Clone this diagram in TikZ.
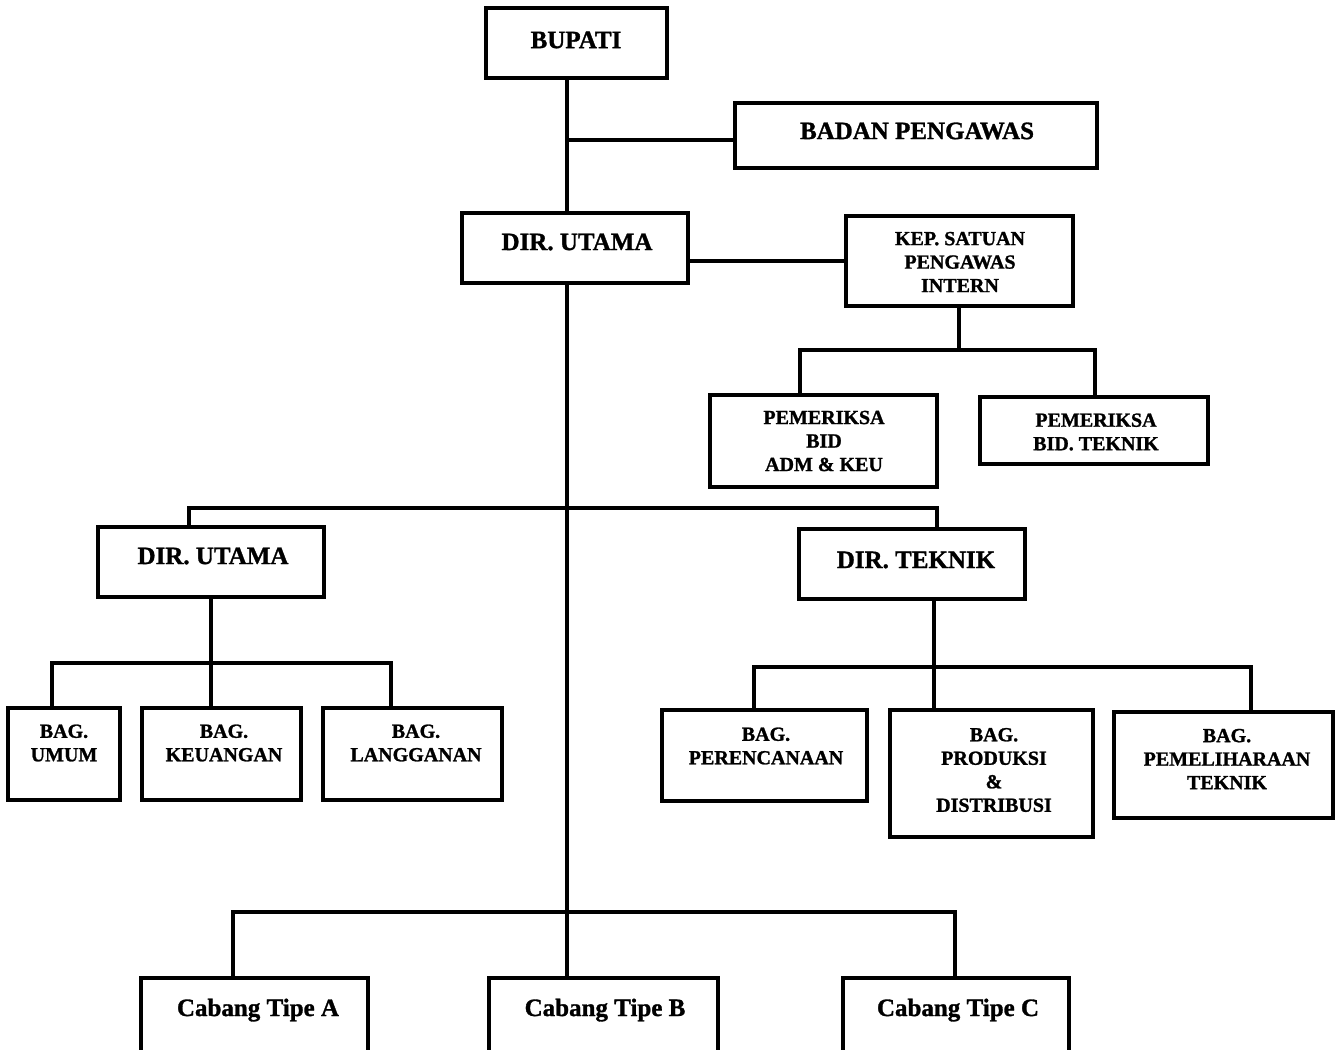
\documentclass[tikz,border=0pt]{standalone}
\usepackage{fontspec}
\setmainfont{Liberation Serif}[BoldFeatures={FakeBold=1.2}]
\usetikzlibrary{fit}
\begin{document}
\begin{tikzpicture}[x=0.5pt,y=-0.5pt,
  box/.style={draw, line width=1.6pt, inner sep=0pt, rectangle},
  wire/.style={line width=1.6pt},
  bigtxt/.style={font=\fontsize{12.5}{15}\selectfont\bfseries, inner sep=0pt},
  smalltxt/.style={font=\fontsize{10}{11.75}\selectfont\bfseries, align=center, inner sep=0pt}]
\useasboundingbox (0,0) rectangle (1343,1049);

% boxes
\node[box, fit={(486,8) (667,78)}] (bupati) {};
\node[box, fit={(735,103) (1097,168)}] (badan) {};
\node[box, fit={(462,213) (688,283)}] (dirut) {};
\node[box, fit={(846,216) (1073,306)}] (kep) {};
\node[box, fit={(710,395) (937,487)}] (pemA) {};
\node[box, fit={(980,397) (1208,464)}] (pemT) {};
\node[box, fit={(98,527) (324,597)}] (dirL) {};
\node[box, fit={(799,529) (1025,599)}] (dirT) {};
\node[box, fit={(8,708) (120,800)}] (umum) {};
\node[box, fit={(142,708) (301,800)}] (keu) {};
\node[box, fit={(323,708) (502,800)}] (lang) {};
\node[box, fit={(662,710) (867,801)}] (peren) {};
\node[box, fit={(890,710) (1093,837)}] (prod) {};
\node[box, fit={(1114,712) (1333,818)}] (pemel) {};
\node[box, fit={(141,978) (368,1062)}] (cabA) {};
\node[box, fit={(489,978) (718,1062)}] (cabB) {};
\node[box, fit={(843,978) (1069,1062)}] (cabC) {};

% labels
\node[bigtxt] (bupati-t) at (576,40) {BUPATI};
\node[bigtxt] (badan-t) at (917,131) {BADAN PENGAWAS};
\node[bigtxt] (dirut-t) at (577,242) {DIR. UTAMA};
\node[smalltxt] (kep-t) at (960,262) {KEP. SATUAN\\PENGAWAS\\INTERN};
\node[smalltxt] (pemA-t) at (824,441) {PEMERIKSA\\BID\\ADM \& KEU};
\node[smalltxt] (pemT-t) at (1096,432) {PEMERIKSA\\BID. TEKNIK};
\node[bigtxt] (dirL-t) at (213,556) {DIR. UTAMA};
\node[bigtxt] (dirT-t) at (916,560) {DIR. TEKNIK};
\node[smalltxt] (umum-t) at (64,743) {BAG.\\UMUM};
\node[smalltxt] (keu-t) at (224,743) {BAG.\\KEUANGAN};
\node[smalltxt] (lang-t) at (416,743) {BAG.\\LANGGANAN};
\node[smalltxt] (peren-t) at (766,746) {BAG.\\PERENCANAAN};
\node[smalltxt] (prod-t) at (994,770) {BAG.\\PRODUKSI\\\&\\DISTRIBUSI};
\node[smalltxt] (pemel-t) at (1227,759) {BAG.\\PEMELIHARAAN\\TEKNIK};
\node[bigtxt, anchor=base] (cabA-t) at (258,1016) {Cabang Tipe A};
\node[bigtxt, anchor=base] (cabB-t) at (605,1016) {Cabang Tipe B};
\node[bigtxt, anchor=base] (cabC-t) at (958,1016) {Cabang Tipe C};

% junction points
\coordinate (trunk) at (567,140);
\coordinate (kepbus) at (959,350);
\coordinate (lbus) at (211,663);
\coordinate (rbus) at (934,667);

% top spine
\draw[wire] (bupati.south -| trunk) -- (dirut.north -| trunk);
\draw[wire] (trunk) -- (badan.west |- trunk);
\draw[wire] (kep.west) -- (kep.west -| dirut.east);
\draw[wire] (dirut.south -| trunk) -- (cabB.north -| trunk);

% internal audit
\draw[wire] (kep.south -| kepbus) -- (kepbus);
\draw[wire] (pemA.north -| 800,0) -- (800,350) -- (1095,350) -- (pemT.north -| 1095,0);

% directors
\draw[wire] (dirL.north -| 189,0) -- (189,508) -- (937,508) -- (dirT.north -| 937,0);

% left departments
\draw[wire] (dirL.south -| lbus) -- (keu.north -| lbus);
\draw[wire] (umum.north -| 52,0) -- (52,663) -- (391,663) -- (lang.north -| 391,0);

% right departments
\draw[wire] (dirT.south -| rbus) -- (prod.north -| rbus);
\draw[wire] (peren.north -| 754,0) -- (754,667) -- (1251,667) -- (pemel.north -| 1251,0);

% branches
\draw[wire] (cabA.north -| 233,0) -- (233,912) -- (955,912) -- (cabC.north -| 955,0);
\end{tikzpicture}
\end{document}
